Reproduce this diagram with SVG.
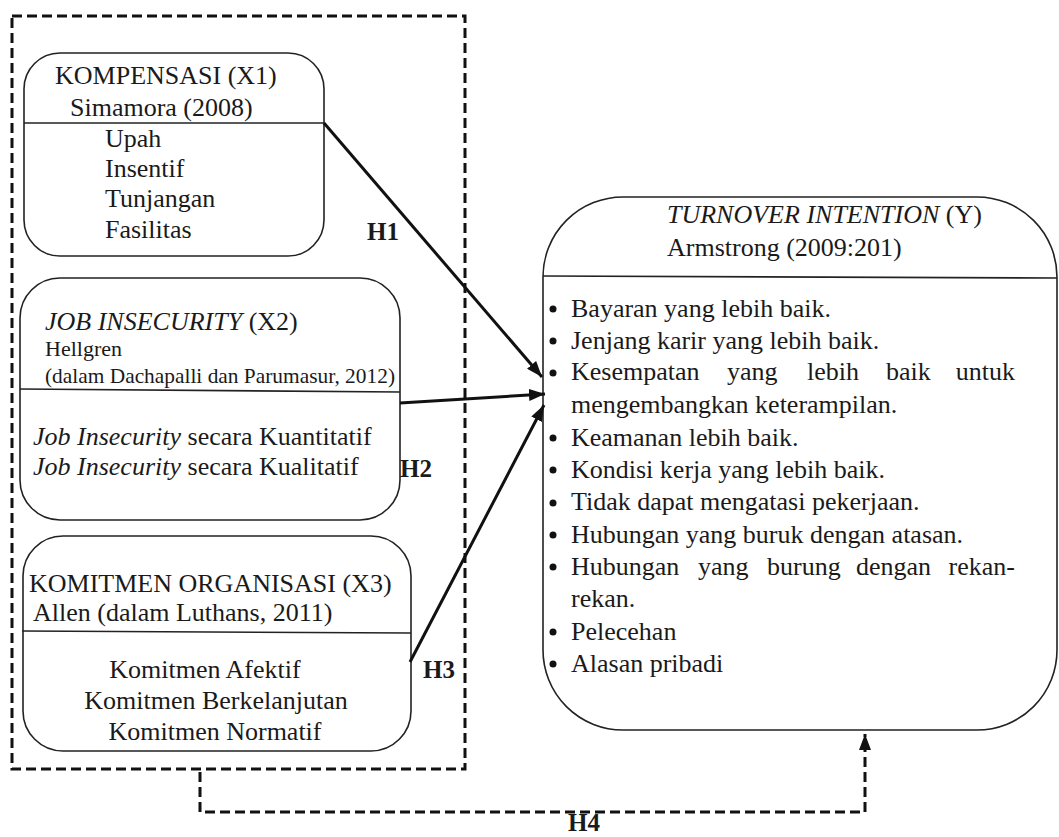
<svg xmlns="http://www.w3.org/2000/svg" width="1059" height="837" viewBox="0 0 1059 837" font-family="'Liberation Serif', 'Times New Roman', 'DejaVu Serif', serif">
<style>
text{font-family:"Liberation Serif","Times New Roman","DejaVu Serif",serif;font-size:26px;fill:#1a1a1a}
.sm{font-size:22px}
.xs{font-size:21px}
.b{font-weight:bold;font-size:25px}
.i{font-style:italic}
.box{fill:#fff;stroke:#222;stroke-width:1.6}
.div{stroke:#222;stroke-width:1.6}
.arr{stroke:#111;stroke-width:3;fill:none}
.dash{stroke:#111;stroke-width:3;fill:none;stroke-dasharray:10 5}
</style>
<defs>
<marker id="ah" viewBox="0 0 16 12" refX="16" refY="6" markerWidth="16" markerHeight="12" markerUnits="userSpaceOnUse" orient="auto">
<path d="M0,0 L16,6 L0,12 z" fill="#111"/>
</marker>
</defs>
<rect id="frame" x="12" y="16" width="453" height="753" class="dash"/>
<g id="x1">
<rect x="24" y="53" width="300" height="203" rx="36" class="box"/>
<line x1="24" y1="123" x2="324" y2="123" class="div"/>
<text x="55" y="84">KOMPENSASI (X1)</text>
<text x="70" y="116">Simamora (2008)</text>
<text x="105" y="147">Upah</text>
<text x="105" y="177">Insentif</text>
<text x="105" y="207">Tunjangan</text>
<text x="105" y="238">Fasilitas</text>
</g>
<g id="x2">
<rect x="20" y="278" width="380" height="242" rx="40" class="box"/>
<line x1="20" y1="389" x2="400" y2="392" class="div"/>
<text x="45" y="330"><tspan class="i">JOB INSECURITY</tspan> (X2)</text>
<text x="45" y="356" class="sm">Hellgren</text>
<text x="45" y="383" class="xs" textLength="350" lengthAdjust="spacingAndGlyphs">(dalam Dachapalli dan Parumasur, 2012)</text>
<text x="33" y="445"><tspan class="i">Job Insecurity</tspan> secara Kuantitatif</text>
<text x="33" y="475"><tspan class="i">Job Insecurity</tspan> secara Kualitatif</text>
</g>
<g id="x3">
<rect x="23" y="536" width="388" height="215" rx="40" class="box"/>
<line x1="22" y1="631" x2="411" y2="633" class="div"/>
<text x="29" y="592">KOMITMEN ORGANISASI (X3)</text>
<text x="33" y="621">Allen (dalam Luthans, 2011)</text>
<text x="205" y="678" text-anchor="middle">Komitmen Afektif</text>
<text x="216" y="709" text-anchor="middle">Komitmen Berkelanjutan</text>
<text x="215" y="740" text-anchor="middle">Komitmen Normatif</text>
</g>
<g id="y">
<rect x="543" y="197" width="514" height="533" rx="80" class="box"/>
<line x1="543" y1="276" x2="1057" y2="278" class="div"/>
<text x="667" y="223"><tspan class="i">TURNOVER INTENTION</tspan> (Y)</text>
<text x="667" y="256">Armstrong (2009:201)</text>
<g fill="#111">
<circle cx="553" cy="309" r="3.5"/>
<circle cx="553" cy="341" r="3.5"/>
<circle cx="553" cy="373" r="3.5"/>
<circle cx="553" cy="438" r="3.5"/>
<circle cx="553" cy="470" r="3.5"/>
<circle cx="553" cy="503" r="3.5"/>
<circle cx="553" cy="535" r="3.5"/>
<circle cx="553" cy="567" r="3.5"/>
<circle cx="553" cy="632" r="3.5"/>
<circle cx="553" cy="664" r="3.5"/>
</g>
<text x="571" y="317">Bayaran yang lebih baik.</text>
<text x="571" y="349">Jenjang karir yang lebih baik.</text>
<text y="380"><tspan x="571">Kesempatan</tspan><tspan x="727">yang</tspan><tspan x="807">lebih</tspan><tspan x="886">baik</tspan><tspan x="1015" text-anchor="end">untuk</tspan></text>
<text x="571" y="413">mengembangkan keterampilan.</text>
<text x="571" y="446">Keamanan lebih baik.</text>
<text x="571" y="478">Kondisi kerja yang lebih baik.</text>
<text x="571" y="510">Tidak dapat mengatasi pekerjaan.</text>
<text x="571" y="543">Hubungan yang buruk dengan atasan.</text>
<text y="575"><tspan x="571">Hubungan</tspan><tspan x="698">yang</tspan><tspan x="767">burung</tspan><tspan x="856">dengan</tspan><tspan x="1015" text-anchor="end">rekan-</tspan></text>
<text x="571" y="607">rekan.</text>
<text x="571" y="640">Pelecehan</text>
<text x="571" y="672">Alasan pribadi</text>
</g>
<g id="connectors">
<line x1="324" y1="123" x2="542" y2="377" class="arr" marker-end="url(#ah)"/>
<line x1="400" y1="403" x2="545" y2="394" class="arr" marker-end="url(#ah)"/>
<line x1="410" y1="662" x2="544" y2="405" class="arr" marker-end="url(#ah)"/>
<path d="M200,772 V812 H865 V734" class="dash" marker-end="url(#ah)"/>
</g>
<g id="labels">
<text x="367" y="240" class="b">H1</text>
<text x="400" y="477" class="b">H2</text>
<text x="423" y="678" class="b">H3</text>
<text x="568" y="831" class="b">H4</text>
</g>
</svg>
